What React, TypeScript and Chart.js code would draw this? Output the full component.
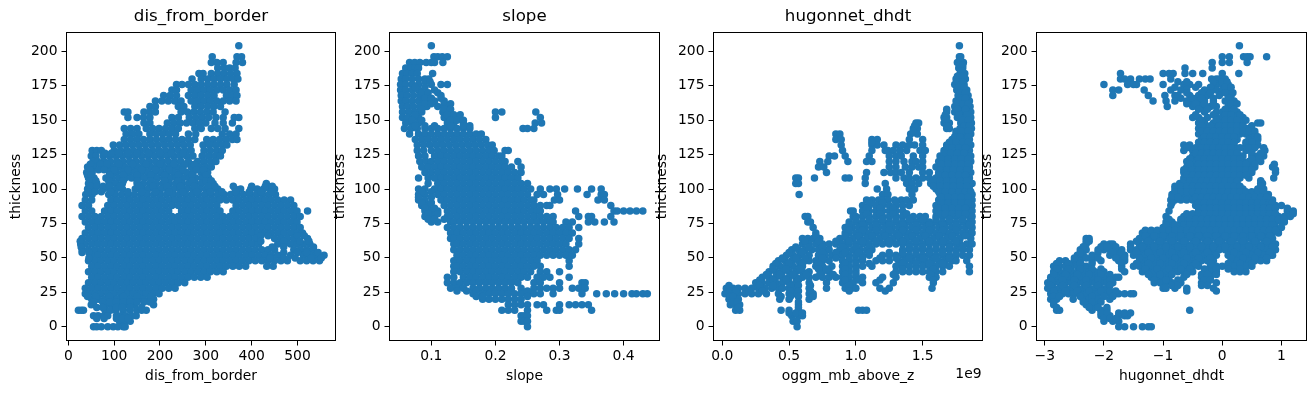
import React, { useEffect, useRef } from "react";
import { Chart, registerables } from "chart.js";

Chart.register(...registerables);

const thicknessLevels = [204,200,196,192,188,184,180,176,172,168,164,160,156,152,148,144,140,136,132,128,124,120,116,112,108,104,100,96,92,88,84,80,76,72,68,64,60,56,52,48,44,40,36,32,28,24,20,16,12,8,4,0];

const disFromBorder = [
[372],
[],
[314,368,378],
[312,324,338,366,380],
[326,340,352,364],
[285,294,312,326,340,354,368],
[270,290,304,318,332,346,360,370],
[236,248,262,276,290,304,318,332,346,362],
[226,236,268,282,296,310,324,338,352,366],
[208,222,236,262,276,290,304,318,345,358,368],
[190,204,218,232,246,268,282,296,310,324,338,352,366],
[178,190,240,252,276,290,304,318,332],
[122,130,165,178,190,246,260,274,288,302,316,342],
[130,150,164,178,226,240,264,278,292,306,322,338,362,372],
[165,178,216,230,244,258,272,286,300,320,338,358],
[122,136,150,170,184,198,212,226,240,276,290,312,326,342,372],
[126,140,154,178,192,206,220,234,262,278,336,352,366],
[122,136,150,164,178,192,206,220,234,248,262,276,302,316,330,344,358,368],
[98,112,126,140,154,168,182,196,210,224,238,252,266,294,308,322,336,346],
[52,62,72,100,114,128,142,156,170,184,198,212,226,240,254,268,296,310,324,336],
[50,60,76,90,104,118,132,146,160,174,188,202,216,230,244,258,272,292,306,320,332],
[54,64,78,92,106,120,134,148,162,176,190,204,218,232,246,262,282,296,310,322],
[42,56,82,96,110,124,138,152,166,180,194,208,222,236,250,268,286,300,312],
[40,52,90,104,118,132,146,160,174,188,202,216,230,244,258,272,290,304],
[44,56,82,96,110,124,138,152,166,180,194,208,222,236,250,264,278,292,306],
[44,54,62,90,104,118,150,164,178,192,206,220,234,248,262,276,290,304,316,432],
[42,56,76,90,104,118,146,160,174,188,202,216,230,244,258,272,286,300,314,326,364,376,398,412,426,440,450],
[38,52,88,102,116,130,144,158,172,186,200,214,228,242,256,270,284,298,312,326,340,354,368,382,396,410,424,438,452],
[37,51,93,107,121,135,149,163,177,191,205,219,233,247,261,275,289,303,317,331,345,359,373,387,401,415,429,443,457,471,485],
[30,44,86,100,114,128,142,156,170,184,198,212,226,240,254,268,282,296,310,324,366,380,394,408,422,436,450,464,478,492],
[37,51,79,93,107,121,135,149,163,177,191,205,219,247,261,275,289,303,317,331,359,373,387,401,415,429,443,457,471,485,499,522],
[30,44,58,72,86,100,114,128,142,156,170,184,198,212,226,240,254,268,282,296,310,324,338,352,366,380,394,408,422,436,450,464,478,492,506],
[37,51,65,79,93,107,121,135,149,163,177,191,205,219,233,247,261,275,289,303,317,331,345,359,373,387,401,415,429,443,457,471,485,499],
[44,58,72,86,100,114,128,142,156,170,184,198,212,226,240,254,268,282,296,310,324,338,352,366,380,394,408,422,436,450,464,478,492,506],
[37,51,65,79,93,107,121,135,149,163,177,191,205,219,233,247,261,275,289,303,317,331,345,359,373,387,401,415,429,443,457,471,485,499,511],
[30,44,58,72,86,100,114,128,142,156,170,184,198,212,226,240,254,268,282,296,310,324,338,352,366,380,394,408,450,464,478,492,522],
[27,37,51,65,79,93,107,121,135,149,163,177,191,205,219,233,247,261,275,289,303,317,331,345,359,373,387,401,415,457,471,485,499,513,527],
[30,44,58,72,86,100,114,128,142,156,170,184,198,212,226,240,254,268,282,296,310,324,338,352,366,380,394,408,422,436,450,492,506,520,534],
[51,65,79,93,107,121,135,149,163,177,191,205,219,233,247,261,275,289,303,317,331,345,359,373,387,401,415,429,443,457,485,513,527,541,558],
[44,58,72,86,100,114,128,142,156,170,184,198,212,226,240,254,268,282,296,310,324,338,352,366,380,394,408,422,436,450,464,478,506,520,534,548],
[51,65,79,93,107,121,135,149,163,177,191,205,219,233,247,261,275,289,303,317,331,345,359,373,387,433,447],
[44,58,72,86,100,114,128,142,156,170,184,198,212,226,240,254,268,282,296,310,324,338],
[51,65,79,93,107,121,135,149,163,177,191,205,219,233,247,261,275,289,303],
[44,58,72,86,100,114,128,142,156,170,184,198,212,226,240,254],
[37,51,65,79,93,107,121,135,149,163,177,191,205,219,233],
[37,44,58,72,86,100,114,128,142,156,170,184,198],
[51,65,79,93,107,121,135,149,163,177,186],
[50,82,96,110,124,145,186],
[22,28,33,80,92,104,120,135,150,160,170],
[55,65,78,86,105,115,125,138,148],
[112,125,135],
[55,62,72,86,98,108,120,124],
];
const disExtraLevels = [126,118,114,110,106,102,98,66,62,58,54,50,22,18,14,6];
const disExtra = [
[80,94,110,130,150,175,200,225,250],
[48,70,84,110,140,170,200,230,255,275],
[47,66,78,100,130,160,190,220,250,280,295],
[42,50,90,120,150,180,210,240,270,300],
[48,60,88,120,150,180,210,240,270,300,312],
[48,62,76,90,112,155,185,215,245,275,305,320,360,400,430,445],
[44,58,72,92,130,160,190,220,250,280,310,335,365,395,420,445],
[420,436,500,515],
[26,420,470,505,525],
[28,445,470,535],
[30,45,470,500,520,545],
[45,440,470,495,530,552],
[42,60,90,120,150,180],
[55,75,90,105,120,135,150,165,178],
[62,75,105,118,135,160],
[62,78,105,118,130],
];

const slope = [
[.1],
[],
[.104,.11,.117,.125],
[.066,.074,.082,.092,.1,.105,.118],
[.06,.068,.075,.08],
[.055,.062,.07,.078,.102],
[.053,.06,.07,.08,.09,.096],
[.052,.06,.07,.08,.1,.115,.125],
[.052,.06,.07,.08,.105],
[.053,.062,.072,.082,.092,.115],
[.053,.06,.07,.08,.088,.095,.105,.12],
[.055,.063,.072,.082,.093,.11,.12,.127],
[.055,.065,.075,.085,.118,.128,.2,.21,.263],
[.055,.063,.072,.08,.12,.13,.14,.2,.27],
[.06,.07,.08,.125,.135,.15,.262,.272],
[.058,.068,.078,.09,.1,.11,.12,.13,.14,.15,.16,.243,.25,.26],
[.066,.08,.09,.1,.11,.12,.13,.14,.15,.16,.17,.178],
[.075,.085,.095,.105,.115,.125,.135,.145,.155,.165,.175,.185],
[.078,.088,.098,.108,.118,.128,.138,.148,.158,.168,.178,.188,.195],
[.078,.088,.1,.11,.12,.13,.14,.15,.16,.17,.18,.19,.198,.215,.22],
[.08,.09,.105,.115,.125,.135,.145,.155,.165,.175,.185,.195,.205,.21],
[.082,.092,.1,.11,.12,.13,.14,.15,.16,.17,.18,.19,.2,.21,.215,.235],
[.085,.095,.105,.115,.125,.135,.145,.155,.165,.175,.185,.195,.205,.215,.225,.24],
[.09,.1,.11,.12,.13,.14,.15,.16,.17,.18,.19,.2,.21,.22,.23,.24],
[.08,.095,.105,.115,.125,.135,.145,.155,.165,.175,.185,.195,.205,.215,.225,.235],
[.095,.11,.12,.13,.14,.15,.16,.17,.18,.19,.2,.21,.22,.23,.24,.25],
[.08,.09,.105,.115,.125,.135,.145,.155,.165,.175,.185,.195,.205,.215,.225,.235,.245,.255,.27,.285,.295,.308,.328,.35,.365],
[.08,.09,.11,.12,.13,.14,.15,.16,.17,.18,.19,.2,.21,.22,.23,.24,.25,.265,.275,.297,.343,.365,.37],
[.08,.09,.115,.125,.135,.145,.155,.165,.175,.185,.195,.205,.215,.225,.235,.245,.255,.26,.292,.3,.36,.37],
[.085,.095,.12,.13,.14,.15,.16,.17,.18,.19,.2,.21,.22,.23,.24,.25,.26,.27,.28,.285,.38],
[.09,.1,.11,.125,.135,.145,.155,.165,.175,.185,.195,.205,.215,.225,.235,.245,.255,.265,.27,.325,.385,.39,.4,.41,.42,.43],
[.09,.1,.105,.125,.13,.14,.15,.16,.17,.18,.19,.2,.21,.22,.23,.24,.25,.26,.27,.28,.29,.33,.345,.35,.38],
[.1,.11,.13,.135,.145,.155,.165,.175,.185,.195,.205,.215,.225,.235,.245,.255,.265,.275,.285,.29,.31,.32,.345,.355,.37,.385],
[.125,.135,.145,.155,.165,.175,.185,.195,.205,.215,.225,.235,.245,.255,.265,.275,.285,.295,.305,.315,.33],
[.13,.14,.15,.16,.17,.18,.19,.2,.21,.22,.23,.24,.25,.26,.27,.28,.29,.3,.31,.32],
[.13,.135,.145,.155,.165,.175,.185,.195,.205,.215,.225,.235,.245,.255,.265,.275,.285,.295,.305,.315,.33],
[.135,.14,.15,.16,.17,.18,.19,.2,.21,.22,.23,.24,.25,.26,.27,.28,.29,.3,.31,.33],
[.135,.145,.155,.165,.175,.185,.195,.205,.215,.225,.235,.245,.255,.265,.275,.285,.295,.305,.315,.325],
[.14,.15,.16,.17,.18,.19,.2,.21,.22,.23,.24,.25,.26,.27,.28,.29,.3,.31,.32],
[.135,.145,.155,.165,.175,.185,.195,.205,.215,.225,.235,.245,.255,.265,.315],
[.135,.14,.15,.16,.17,.18,.19,.2,.21,.22,.23,.24,.25,.26,.27,.315],
[.135,.145,.155,.165,.175,.185,.195,.205,.215,.225,.235,.245,.255,.27,.28,.3],
[.125,.135,.15,.16,.17,.18,.19,.2,.21,.22,.23,.24,.25,.265,.275,.285,.315],
[.125,.135,.145,.155,.165,.175,.185,.195,.205,.215,.225,.235,.26,.27,.3,.335,.34],
[.13,.14,.15,.165,.175,.185,.195,.205,.215,.225,.24,.26,.27,.28,.29,.3,.32,.33,.34],
[.165,.18,.19,.2,.21,.22,.23,.24,.25,.26,.27,.29,.335,.358,.373,.386,.4,.413,.42,.43,.437],
[.18,.19,.2,.21,.22,.23,.24],
[.22,.23,.24,.25,.265,.275,.3,.315,.325,.335,.345],
[.21,.22,.23,.25,.28,.295,.3,.35],
[.24,.245,.25],
[.24,.245,.25],
[.25],
];
const slopeExtraLevels = [178,174,170,166,162,158,154,150,146,98,94,90,86,82,78,26,22];
const slopeExtra = [
[.09,.098],
[.075,.09],
[.085,.095,.11],
[.09,.1,.115],
[.09,.1,.12,.13],
[.085,.12,.13],
[.075,.125,.135,.145],
[.07,.085,.13,.14,.15],
[.075,.09,.105,.13,.15,.16],
[.085,.1],
[.08,.1],
[.085,.1],
[.09,.105],
[.095,.11],
[.095,.105,.12],
[.14,.155,.17,.25],
[.17,.18,.25],
];

const mbAboveZ = [
[1.775],
[],
[1.775,1.785],
[1.76,1.785,1.805],
[1.77,1.8],
[1.78,1.815],
[1.75,1.79,1.82],
[1.74,1.775,1.81],
[1.755,1.79,1.83],
[1.765,1.8,1.84],
[1.75,1.8,1.85],
[1.74,1.78,1.82,1.855],
[1.68,1.74,1.79,1.84,1.86],
[1.66,1.68,1.76,1.81,1.86],
[1.45,1.47,1.66,1.7,1.785,1.83,1.865],
[1.43,1.46,1.68,1.7,1.78,1.83,1.865],
[.85,.88,1.41,1.46,1.75,1.8,1.86],
[.85,.89,1.12,1.16,1.4,1.5,1.72,1.77,1.82,1.85],
[.89,1.12,1.16,1.21,1.3,1.35,1.4,1.44,1.5,1.68,1.73,1.78,1.83,1.86],
[.9,1.12,1.22,1.24,1.28,1.33,1.38,1.48,1.52,1.66,1.71,1.76,1.81,1.85],
[.8,.84,.92,1.1,1.25,1.3,1.34,1.43,1.5,1.63,1.68,1.73,1.78,1.83,1.86],
[.73,.79,.94,1.08,1.12,1.25,1.3,1.36,1.42,1.45,1.5,1.62,1.67,1.72,1.77,1.82,1.86],
[.72,.76,1.25,1.3,1.37,1.42,1.47,1.5,1.6,1.65,1.7,1.75,1.8,1.85],
[.78,1.08,1.21,1.26,1.3,1.34,1.4,1.5,1.55,1.62,1.67,1.72,1.77,1.82,1.86],
[.55,.57,.69,.92,.95,1.07,1.3,1.36,1.4,1.45,1.5,1.55,1.6,1.65,1.7,1.75,1.8,1.85],
[.55,.57,1.07,1.22,1.38,1.42,1.47,1.56,1.61,1.66,1.72,1.77,1.82,1.87],
[1.16,1.23,1.4,1.44,1.6,1.65,1.7,1.75,1.8,1.85],
[.575,1.2,1.24,1.42,1.63,1.68,1.73,1.78,1.83,1.87],
[1.08,1.12,1.17,1.2,1.24,1.29,1.34,1.38,1.43,1.62,1.67,1.72,1.77,1.82,1.87],
[1.05,1.1,1.15,1.2,1.25,1.3,1.35,1.4,1.6,1.65,1.7,1.75,1.8,1.85,1.87],
[.96,.98,1.05,1.1,1.15,1.2,1.25,1.3,1.35,1.6,1.65,1.7,1.75,1.8,1.85,1.87],
[.62,.64,.98,1,1.05,1.1,1.15,1.2,1.25,1.3,1.35,1.43,1.48,1.52,1.6,1.65,1.7,1.75,1.8,1.85,1.87],
[.64,.66,.95,1,1.05,1.1,1.15,1.2,1.25,1.3,1.35,1.4,1.45,1.5,1.55,1.6,1.65,1.7,1.75,1.8,1.85,1.87],
[.68,.92,.97,1.02,1.07,1.12,1.17,1.22,1.27,1.32,1.37,1.42,1.47,1.52,1.57,1.62,1.67,1.72,1.77,1.82,1.87],
[.7,.92,.95,1,1.05,1.1,1.15,1.2,1.25,1.3,1.35,1.4,1.45,1.5,1.55,1.6,1.65,1.7,1.75,1.8,1.85,1.87],
[.6,.64,.68,.73,.88,.93,.98,1.03,1.08,1.13,1.18,1.23,1.28,1.33,1.38,1.43,1.48,1.53,1.58,1.63,1.68,1.73,1.78,1.86],
[.6,.65,.7,.75,.8,.85,.9,.95,1,1.05,1.1,1.15,1.2,1.25,1.3,1.35,1.4,1.45,1.5,1.55,1.6,1.65,1.7,1.75,1.78,1.83,1.87],
[.52,.57,.62,.67,.72,.77,.8,.88,.93,.98,1.03,1.08,1.12,1.35,1.4,1.45,1.5,1.55,1.6,1.65,1.7,1.75,1.8,1.85],
[.48,.53,.58,.65,.72,.77,.82,.87,.9,.95,1,1.05,1.1,1.2,1.25,1.3,1.35,1.4,1.45,1.5,1.55,1.6,1.65,1.7,1.75,1.8,1.85],
[.42,.47,.52,.57,.62,.65,.7,.75,.8,.9,.95,1,1.05,1.15,1.2,1.25,1.32,1.37,1.42,1.47,1.52,1.57,1.62,1.67,1.72,1.75,1.83],
[.38,.43,.48,.53,.58,.6,.7,.75,.82,.9,.95,1,1.05,1.12,1.3,1.35,1.4,1.45,1.5,1.55,1.6,1.65,1.7,1.85],
[.35,.4,.45,.5,.55,.6,.65,.75,.8,.9,.95,1,1.3,1.35,1.4,1.45,1.5,1.55,1.6,1.65,1.85],
[.3,.35,.4,.45,.5,.55,.6,.65,.7,.75,.8,.85,.9,.95,1,1.05,1.2,1.3,1.55,1.6],
[.25,.3,.35,.4,.45,.5,.55,.65,.78,.9,.95,.98,1.05,1.15,1.28,1.58],
[.03,.08,.12,.17,.22,.27,.32,.37,.42,.45,.5,.55,.65,.78,.92,.97,1,1.18,1.25,1.57],
[.02,.07,.1,.12,.17,.22,.27,.33,.42,.5,.54,.65,.68],
[.05,.1,.12,.43,.5,.65],
[.06,.1,.13,.57],
[.1,.13,.44,.5,.57,1.02,1.05,1.08],
[.52,.57,.6],
[.53,.56],
[.56],
];
const mbExtraLevels = [194,190,186,182,178,174,170,166,162,158,154,150,146,142,138,134,130,126,122,118,114,110,106,102,98,94,90,86,82,78,74,70,66,62,58,54,50,46,42,38,34,30,26,22,18,14,10];
const mbExtra = [
[1.78],
[1.78,1.8],
[1.79],
[1.76,1.8],
[1.76,1.8],
[1.77,1.81],
[1.78,1.82],
[1.78,1.82],
[1.76,1.8,1.84],
[1.68,1.76,1.82],
[1.67,1.77,1.83],
[1.67,1.8,1.84],
[1.44,1.68,1.81,1.85],
[1.43,1.75,1.79,1.84],
[1.74,1.78,1.84],
[1.12,1.7,1.75,1.8,1.84],
[1.68,1.72,1.77,1.82],
[1.66,1.71,1.76,1.81],
[1.64,1.69,1.74,1.79,1.84],
[1.64,1.69,1.74,1.79,1.84],
[1.63,1.68,1.73,1.78,1.83],
[1.62,1.67,1.72,1.77,1.82],
[1.58,1.63,1.68,1.73,1.78,1.83],
[1.58,1.63,1.68,1.73,1.78,1.83],
[1.62,1.67,1.72,1.77,1.82,1.86],
[1.64,1.69,1.74,1.79,1.84],
[1.1,1.2,1.3,1.64,1.69,1.74,1.79,1.84],
[1.08,1.18,1.28,1.62,1.67,1.72,1.77,1.82],
[1.08,1.18,1.28,1.38,1.62,1.67,1.72,1.77,1.82],
[1,1.1,1.2,1.3,1.4,1.5,1.6,1.7,1.8],
[.95,1.05,1.15,1.25,1.35,1.45,1.55,1.65,1.75,1.85],
[.95,1.05,1.15,1.25,1.35,1.45,1.55,1.65,1.75],
[.7,.92,1.02,1.12,1.22,1.32,1.42,1.52,1.62,1.72,1.82],
[.62,.72,.85,.95,1.05,1.15,1.25,1.35,1.45,1.55,1.65,1.75],
[.55,.65,.75,.9,1,1.1,1.4,1.5,1.6,1.7,1.8],
[.5,.6,.75,.85,.92,1.02,1.1,1.25,1.35,1.45,1.55,1.65,1.75],
[.45,.55,.62,.75,.85,.95,1.05,1.18,1.3,1.4,1.5,1.6,1.7],
[.4,.5,.6,.72,.92,1,1.1,1.35,1.45,1.55,1.65],
[.38,.48,.58,.72,.78,.92,1,1.35,1.45,1.58],
[.33,.43,.53,.63,.73,.83,.92,1,1.28,1.56],
[.28,.38,.48,.57,.92,1.02,1.18,1.58],
[.05,.28,.38,.51,.57,.66,.95],
[.06,.1,.2,.3,.51,.57,.66,.95,1.22],
[.06,.08,.44,.51,.57,.68],
[.08,.11,.57],
[.12,.57],
[.5,.55,.6],
];

const dhdt = [
[.29],
[],
[.75,.36,.47,.42,.12,0],
[0,.12,-.17,.42],
[-.63,-.17],
[-1.72,-1,-.9,-.83,-.63,-.5,-.33,.28,0],
[-1.72,-1.65,-1.55,-1.4,-1.3,-1.22,-.87,-.18,-.1,-.05,.05],
[-2,-1.6,-1.5,-1.45,-1,-.65,-.55,-.4,-.1,0,.1],
[-1.85,-1.75,-1.32,-.87,-.7,-.6,-.3,-.1,0,.1],
[-1.85,-1.25,-.97,-.8,-.75,-.55,-.4,-.25,-.05,.1,.15],
[-1.17,-.95,-.8,-.6,-.5,-.4,-.3,-.15,.05,.2],
[-.93,-.5,-.35,-.2,-.1,.1],
[-.3,-.1,0,.1,.25],
[-.5,-.4,-.25,-.1,0,.1,.2,.3,.35],
[-.4,-.3,-.15,0,.1,.2,.3,.6,.65],
[-.4,-.3,-.1,0,.1,.2,.3,.4,.45],
[-.4,-.3,-.2,-.1,0,.1,.2,.3,.4,.5,.55],
[-.35,-.25,-.15,-.05,.05,.15,.25,.45,.55,.6],
[-.65,-.55,-.3,-.2,-.1,0,.1,.2,.4,.5,.6],
[-.65,-.5,-.35,-.25,-.15,-.05,.05,.15,.25,.4,.5,.72],
[-.5,-.4,-.3,-.2,-.1,0,.1,.2,.3,.35,.5,.6,.7],
[-.6,-.45,-.35,-.25,-.15,-.05,.05,.15,.25,.35,.45,.55,.65],
[-.6,-.5,-.4,-.3,-.2,-.1,0,.1,.2,.3,.4,.5,.55,.85],
[-.65,-.55,-.45,-.35,-.25,-.15,-.05,.05,.15,.25,.35,.5,.9],
[-.65,-.6,-.5,-.4,-.3,-.2,-.1,0,.1,.2,.3,.45,.87],
[-.72,-.65,-.55,-.45,-.35,-.25,-.15,-.05,.05,.15,.25,.65,.68],
[-.8,-.7,-.6,-.5,-.4,-.3,-.2,-.1,0,.1,.2,.3,.35,.6,.7],
[-.85,-.75,-.65,-.55,-.45,-.35,-.25,-.15,-.05,.05,.15,.25,.35,.45,.55,.65,.78],
[-.87,-.8,-.7,-.6,-.5,-.4,-.3,-.2,-.1,0,.1,.2,.3,.4,.5,.6,.7,.8,.85],
[-.87,-.45,-.35,-.25,-.15,-.05,.05,.15,.25,.35,.45,.55,.65,.75,.9,1],
[-.9,-.4,-.3,-.2,-.1,0,.1,.2,.3,.4,.5,.6,.7,.8,1.1,1.2],
[-.95,-.65,-.55,-.45,-.35,-.25,-.15,-.05,.05,.15,.25,.35,.45,.55,.65,.75,.85,.95,1.05,1.15],
[-.95,-.85,-.7,-.6,-.5,-.4,-.3,-.2,-.1,0,.1,.2,.3,.4,.5,.6,.7,.8,.9,1,1.05],
[-1,-.9,-.8,-.7,-.6,-.5,-.4,-.3,-.2,-.1,0,.1,.2,.3,.4,.5,.6,.7,.8,.9,1],
[-1.35,-1.25,-1.15,-1.05,-.95,-.85,-.75,-.65,-.55,-.45,-.35,-.25,-.15,-.05,.05,.15,.25,.35,.45,.55,.65,.75,.85,.95],
[-2.3,-2.25,-1.4,-1.3,-1.2,-1.1,-1,-.9,-.8,-.7,-.6,-.5,-.4,-.3,-.2,-.1,0,.1,.2,.3,.4,.5,.6,.7,.85],
[-2.3,-2,-1.9,-1.85,-1.55,-1.4,-1.3,-1.2,-1.1,-1,-.9,-.8,-.7,-.6,-.5,-.4,-.3,-.2,-.1,0,.1,.2,.3,.4,.5,.6,.7,.8,.9],
[-2.4,-2.3,-2.1,-2,-1.9,-1.8,-1.7,-1.55,-1.45,-1.35,-1.25,-1.15,-1.05,-.95,-.85,-.75,-.65,-.55,-.45,-.35,-.25,-.15,-.05,.05,.15,.25,.35,.45,.55,.65,.75,.85,.9],
[-2.45,-2.35,-2.2,-1.9,-1.8,-1.7,-1.65,-1.5,-1.4,-1.3,-1.2,-1.1,-1,-.9,-.8,-.7,-.6,-.5,-.4,-.3,-.2,-.1,.1,.2,.3,.4,.5,.6,.7,.8,.85],
[-2.75,-2.65,-2.5,-2.4,-2.2,-2.05,-1.75,-1.65,-1.35,-1.25,-1.15,-1.05,-.95,-.85,-.75,-.65,-.55,-.45,-.35,-.25,-.15,.15,.25,.35,.45,.55,.65,.75],
[-2.85,-2.75,-2.65,-2.55,-2.45,-2.35,-2.3,-1.7,-1.5,-1.4,-1.3,-1.2,-1.1,-1,-.9,-.8,-.7,-.6,-.5,-.4,-.2,-.1,0,.1,.2,.3,.4,.5],
[-2.85,-2.75,-2.65,-2.55,-2.45,-2.35,-2.25,-2.15,-2,-1.65,-1.35,-1.25,-1.15,-1.05,-.95,-.85,-.75,-.65,-.55,-.5,-.3,-.2,-.1,.2,.3,.4],
[-2.9,-2.8,-2.7,-2.6,-2.5,-2.4,-2.3,-2.2,-2.1,-2,-1.9,-1.8,-1.75,-1.2,-1.1,-1,-.9,-.65,-.35,-.2],
[-2.95,-2.85,-2.75,-2.65,-2.55,-2.45,-2.35,-2.25,-2.15,-2.05,-1.95,-1.85,-1.15,-1.05,-.95,-.85,-.7,-.35,-.25,-.1],
[-2.95,-2.85,-2.75,-2.65,-2.55,-2.45,-2.35,-2.25,-2.15,-2.05,-1.95,-1,-.95,-.8,-.6,-.15],
[-2.9,-2.8,-2.7,-2.6,-2.5,-2.4,-2.3,-2.2,-2.1,-2,-1.9,-1.8,-1.75,-1.65,-1.55,-1.5],
[-2.9,-2.8,-2.52,-2.35,-2.25,-2.15,-2.1,-1.9],
[-2.85,-2.3,-2.2,-2.15],
[-2.8,-2.75,-2.2,-2.05,-1.95,-.55],
[-2.05,-1.9,-1.75,-1.65,-1.6],
[-2,-1.85,-1.75],
[-1.75,-1.65,-1.5,-1.35,-1.25,-1.2],
];
const dhdtExtraLevels = [178,174,170,166,162,158,154,150,146,142,138,134,130,126,122,118,114,110,106,102,98,94,90,86,82,78,74,70,66,62,58,54,50,46,42,38,34,30,26,22,18,14,10,6];
const dhdtExtra = [
[-.75,-.6,-.15,0,.08],
[-.8,-.45,-.2,.05,.15],
[-.6,-.35,-.2,.05,.18],
[-.7,-.5,-.35,-.15,.12],
[-.6,-.45,-.3,-.15,.15,.25],
[-.4,-.25,.05,.2],
[-.45,-.15,.05,.15,.3],
[-.35,-.1,.05,.15,.25,.4],
[-.35,-.2,-.05,.05,.15,.25,.35,.5],
[-.35,-.25,-.15,-.05,.05,.15,.25,.35,.45,.55],
[-.3,-.2,-.1,0,.1,.2,.55,.6],
[-.4,-.3,-.2,-.1,0,.1,.2,.4,.5],
[-.6,-.45,-.35,-.25,-.15,-.05,.05,.15,.3,.45,.55,.7],
[-.45,-.35,-.25,-.15,-.05,.05,.15,.25,.5,.65],
[-.55,-.4,-.3,-.2,-.1,0,.1,.2,.3,.5,.62],
[-.55,-.4,-.3,-.2,-.1,0,.1,.2,.3,.4,.55,.88],
[-.65,-.5,-.4,-.3,-.2,-.1,0,.1,.2,.3,.4,.5,.9],
[-.6,-.5,-.4,-.3,-.2,-.1,0,.1,.2,.3,.4],
[-.65,-.55,-.45,-.35,-.25,-.15,-.05,.05,.15,.25,.65],
[-.8,-.7,-.6,-.5,-.4,-.3,-.2,-.1,0,.1,.2,.3,.65],
[-.8,-.7,-.6,-.5,-.4,-.3,-.2,-.1,0,.1,.2,.3,.4,.5,.6,.7],
[-.85,-.75,-.45,-.35,-.25,-.15,-.05,.05,.15,.25,.35,.45,.55,.65,.75],
[-.85,-.4,-.3,-.2,-.1,0,.1,.2,.3,.4,.5,.6,.7,.8,.85],
[-.4,-.3,-.2,-.1,0,.1,.2,.3,.4,.5,.6,.7,.8,.9,1.1],
[-.6,-.5,-.4,-.3,-.2,-.1,0,.1,.2,.3,.4,.5,.6,.7,.8,.9,1.2],
[-.9,-.7,-.55,-.45,-.35,-.25,-.15,-.05,.05,.15,.25,.35,.45,.55,.65,.75,.85,.95,1.05],
[-.95,-.8,-.65,-.55,-.45,-.35,-.25,-.15,-.05,.05,.15,.25,.35,.45,.55,.65,.75,.85],
[-1.3,-1.2,-1.1,-1,-.9,-.8,-.7,-.6,-.5,-.4,-.3,-.2,-.1,0,.1,.2,.3,.4,.5,.6,.7,.8,.9],
[-1.3,-1.15,-1,-.85,-.7,-.55,-.4,-.25,-.1,.05,.2,.35,.5,.65,.8],
[-2.3,-2.25,-1.45,-1.25,-1.05,-.85,-.65,-.45,-.25,-.05,.15,.35,.55,.75],
[-2.35,-2.05,-1.95,-1.8,-1.55,-1.35,-1.15,-.95,-.75,-.55,-.35,-.15,.05,.25,.45,.65,.85],
[-2.4,-2.1,-1.85,-1.7,-1.45,-1.25,-1.05,-.85,-.65,-.45,-.25,.2,.4,.6,.8],
[-2.5,-2.3,-2.1,-1.8,-1.65,-1.4,-1.2,-1,-.8,-.6,-.4,-.2,.15,.35,.55,.75],
[-2.8,-2.6,-2.4,-2.2,-1.7,-1.45,-1.25,-1.05,-.85,-.65,-.45,-.2,.1,.3,.5],
[-2.8,-2.6,-2.4,-2.2,-2.05,-1.7,-1.3,-1.1,-.9,-.7,-.55,-.3,-.1,.1,.3],
[-2.85,-2.65,-2.45,-2.25,-2.05,-1.9,-1.25,-1.05,-.85,-.6,-.35,-.25,-.1],
[-2.9,-2.7,-2.5,-2.3,-2.1,-1.9,-1.15,-.95,-.75,-.3,-.2],
[-2.9,-2.7,-2.5,-2.3,-2.1,-1.9,-.85,-.75,-.35,-.25],
[-2.85,-2.65,-2.45,-2.25,-2.05,-1.9,-1.8,-.6,-.1],
[-2.85,-2.75,-2.4,-2.2,-2,-1.85],
[-2.85,-2.35,-2.2,-2.05],
[-2.8,-2.25,-2.1,-1.95],
[-2.05,-1.95,-1.75,-1.65,-1.55],
[-2,-1.9,-1.8],
];

const dataOf = (levels: number[], rows: number[][]) =>
  levels.flatMap((y, i) => rows[i].map((x) => ({ x, y })));

const panels = [
  { title: "dis_from_border", xLabel: "dis_from_border", rows: disFromBorder, extraLevels: disExtraLevels, extra: disExtra, left: 0, width: 337, padL: 8, boxL: 66.5, boxR: 335.5, min: -4, max: 583, step: 100 },
  { title: "slope", xLabel: "slope", rows: slope, extraLevels: slopeExtraLevels, extra: slopeExtra, left: 325, width: 336, padL: 7, boxL: 389.5, boxR: 659.5, min: 0.0347, max: 0.456, step: 0.1 },
  { title: "hugonnet_dhdt", xLabel: "oggm_mb_above_z", rows: mbAboveZ, extraLevels: mbExtraLevels, extra: mbExtra, left: 647, width: 337, padL: 7, boxL: 713.5, boxR: 982.5, min: -0.066, max: 1.948, step: 0.5, exp: "1e9" },
  { title: "", xLabel: "hugonnet_dhdt", rows: dhdt, extraLevels: dhdtExtraLevels, extra: dhdtExtra, left: 971, width: 344, padL: 8, boxL: 1036.5, boxR: 1306.5, min: -3.14, max: 1.424, step: 1 },
];

const FONT = "'DejaVu Sans'";
const H = 393;
const TOP = 32.5;
const BOTTOM = 340.5;

function Panel({ p }: { p: (typeof panels)[number] }) {
  const ref = useRef<HTMLCanvasElement>(null);
  useEffect(() => {
    const frame = {
      id: "frame",
      afterDraw(c: any) {
        const { left, right, top, bottom } = c.chartArea;
        const g = c.ctx;
        g.save();
        g.strokeStyle = "#000";
        g.lineWidth = 1;
        g.strokeRect(left, top, right - left, bottom - top);
        if (p.exp) {
          g.fillStyle = "#000";
          g.font = `13.89px ${FONT}`;
          g.textAlign = "right";
          g.textBaseline = "middle";
          g.fillText(p.exp, right - 1, 374);
        }
        g.restore();
      },
    };
    const chart = new Chart(ref.current!, {
      type: "scatter",
      data: {
        datasets: [
          {
            data: [...dataOf(thicknessLevels, p.rows), ...dataOf(p.extraLevels, p.extra)],
            backgroundColor: "#1f77b4",
            borderColor: "#1f77b4",
            borderWidth: 0,
            pointRadius: 3.75,
          },
        ],
      },
      plugins: [frame],
      options: {
        animation: false,
        responsive: false,
        devicePixelRatio: 1,
        layout: {
          autoPadding: false,
          padding: {
            left: p.padL,
            right: p.left + p.width - p.boxR,
            top: p.title ? 0 : TOP,
            bottom: 0,
          },
        },
        plugins: {
          legend: { display: false },
          tooltip: { enabled: false },
          title: {
            display: !!p.title,
            text: p.title,
            fullSize: false,
            color: "#000",
            font: { family: FONT, size: 16.67, weight: "normal", lineHeight: 1.2 },
            padding: { top: 7, bottom: 5.5 },
          },
        },
        scales: {
          x: {
            type: "linear",
            min: p.min,
            max: p.max,
            afterFit: (s: any) => {
              s.height = H - BOTTOM;
            },
            border: { display: false },
            grid: { drawOnChartArea: false, tickLength: 5, tickColor: "#000", tickWidth: 1 },
            ticks: {
              stepSize: p.step,
              includeBounds: false,
              maxRotation: 0,
              autoSkip: false,
              padding: 3,
              color: "#000",
              font: { family: FONT, size: 13.89 },
              callback: (v: any) => {
                const n = Number(v);
                const s = p.step < 1 ? n.toFixed(1) : String(Math.round(n));
                return s.replace("-", "\u2212");
              },
            },
            title: {
              display: true,
              text: p.xLabel,
              color: "#000",
              font: { family: FONT, size: 13.89, lineHeight: 1.2 },
              padding: { top: 0, bottom: 8 },
            },
          },
          y: {
            type: "linear",
            min: -10,
            max: 213.7,
            afterFit: (s: any) => {
              s.width = p.boxL - p.left - p.padL;
            },
            border: { display: false },
            grid: { drawOnChartArea: false, tickLength: 5, tickColor: "#000", tickWidth: 1 },
            ticks: {
              stepSize: 25,
              includeBounds: false,
              autoSkip: false,
              padding: 4,
              color: "#000",
              font: { family: FONT, size: 13.89 },
            },
            title: {
              display: true,
              text: "thickness",
              color: "#000",
              font: { family: FONT, size: 13.89, lineHeight: 1.2 },
              padding: { top: 0, bottom: 0 },
            },
          },
        },
      },
    } as any);
    return () => chart.destroy();
  }, [p]);
  return (
    <canvas
      ref={ref}
      width={p.width}
      height={H}
      style={{ position: "absolute", left: p.left, top: 0, width: p.width, height: H }}
    />
  );
}

export default function App() {
  return (
    <div style={{ position: "absolute", left: 0, top: 0, width: 1315, height: H, background: "#fff" }}>
      {panels.map((p) => (
        <Panel key={p.xLabel} p={p} />
      ))}
    </div>
  );
}
